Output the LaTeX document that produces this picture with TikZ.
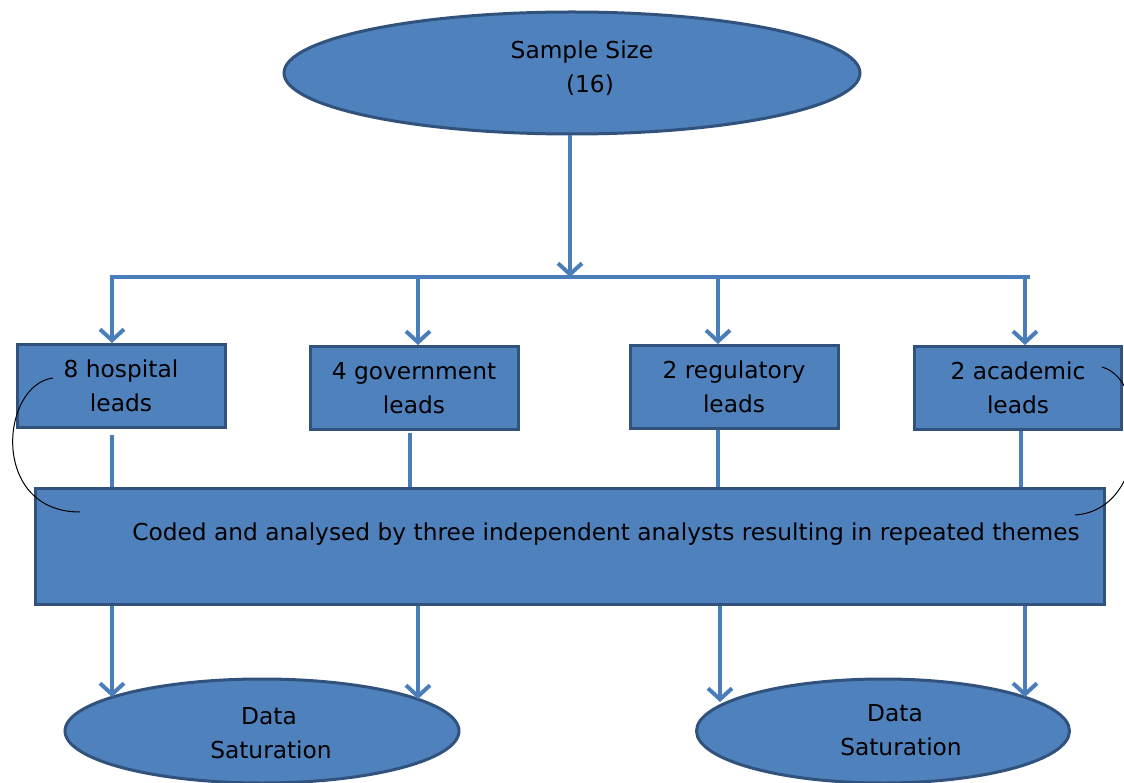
\documentclass[tikz,border=0pt]{standalone}
\usepackage{fontspec}
\setmainfont{DejaVu Sans}
\usetikzlibrary{arrows.meta,shapes.geometric}
\definecolor{fillblue}{HTML}{4F81BD}
\definecolor{edgeblue}{HTML}{30527C}
\definecolor{linkblue}{HTML}{4A7EBB}
\begin{document}
\begin{tikzpicture}[x=1pt,y=-1pt,
  every node/.style={font=\fontsize{23.3}{34}\selectfont, text=black, align=center},
  oval/.style={ellipse, draw=edgeblue, fill=fillblue, line width=3pt, inner sep=0pt},
  leadbox/.style={rectangle, draw=edgeblue, fill=fillblue, line width=3pt,
    minimum width=208pt, minimum height=83pt, inner sep=0pt},
  link/.style={draw=linkblue, line width=4pt},
  arrowlink/.style={link, -{Straight Barb[length=11pt,width=24pt]}},
  brace/.style={draw=black, line width=1pt}]
\clip (0,0) rectangle (1124,783);

% top oval
\node[oval, minimum width=576pt, minimum height=122pt] (size) at (572,73) {};
\node (sizetext) at (582,68) {Sample Size\\\hspace*{16pt}(16)};

% distribution bus
\coordinate (bus)  at (570,277);
\coordinate (busL) at (110,277);
\coordinate (busR) at (1030,277);
\coordinate (drop1) at (112,277);
\coordinate (drop2) at (418,277);
\coordinate (drop3) at (718,277);
\coordinate (drop4) at (1025,277);

% lead boxes
\node[leadbox] (box1) at (121,386) {8 hospital\\leads};
\node[leadbox] (box2) at (414,388) {4 government\\leads};
\node[leadbox] (box3) at (734,387) {2 regulatory\\leads};
\node[leadbox, minimum width=207pt] (box4) at (1018,388) {2 academic\\leads};

% analysis box
\node[leadbox, minimum width=1069pt, minimum height=116pt] (coded) at (570,546) {};
\node (codedtext) at (606,534)
  {Coded and analysed by three independent analysts resulting in repeated themes};

% saturation ovals
\node[oval, minimum width=394pt, minimum height=104pt] (sat1) at (262,731) {};
\node (sat1text) at (269,733) {Data\\\hspace*{4pt}Saturation};
\node[oval, minimum width=373pt, minimum height=104pt] (sat2) at (883,731) {};
\node (sat2text) at (895,730) {Data\\\hspace*{12pt}Saturation};

% ends of the lower arrows on the oval borders
\coordinate (in1) at (112,697);
\coordinate (in2) at (418,699);
\coordinate (in3) at (720,702);
\coordinate (in4) at (1025,697);

% connectors
\draw[arrowlink] (size.south -| bus) -- (bus);
\draw[link] (busL) -- (busR);
\foreach \i in {1,...,4}{
  \draw[arrowlink] (drop\i) -- (drop\i |- box\i.north);
}
\draw[link] ([yshift=-6pt]box1.south -| drop1) -- (coded.north -| drop1);
\draw[link] ([yshift=-2pt]box2.south -| 410,0) -- (coded.north -| 410,0);
\draw[link] (box3.south -| drop3) -- (coded.north -| drop3);
\draw[link] (box4.south -| 1021,0) -- (coded.north -| 1021,0);
\foreach \i in {1,...,4}{
  \draw[arrowlink] (coded.south -| in\i) -- (in\i);
}

% thin arcs
\draw[brace] (53,378) .. controls (0,385) and (-10,512) .. (80,512);
\draw[brace] (1102,367) .. controls (1150,380) and (1150,510) .. (1075,515);
\end{tikzpicture}
\end{document}
